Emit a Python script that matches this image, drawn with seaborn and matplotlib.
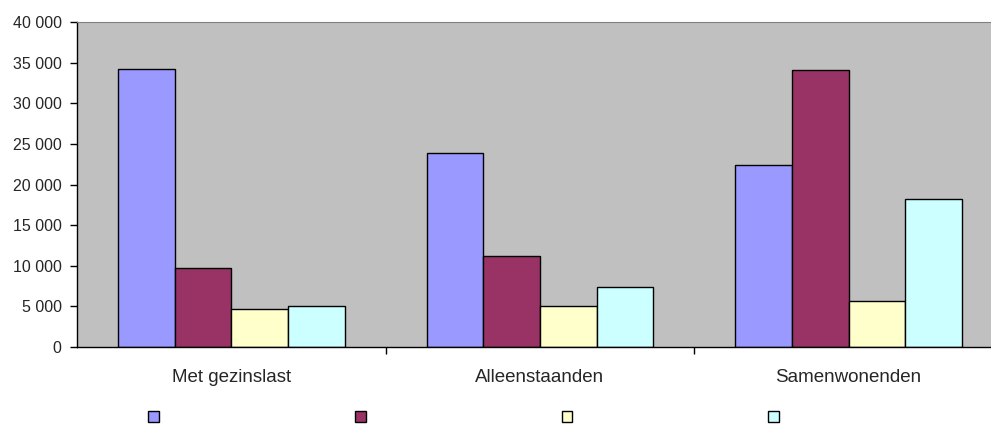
"""Grouped bar chart, Excel-style"""
import matplotlib
matplotlib.use("Agg")
import matplotlib.pyplot as plt
import matplotlib.patches as mpatches
from matplotlib.ticker import FuncFormatter, FixedLocator
import pandas as pd
import seaborn as sns

# data
categories = ["Met gezinslast", "Alleenstaanden", "Samenwonenden"]
series = ["reeks1", "reeks2", "reeks3", "reeks4"]
reeks1 = [34200, 23900, 22400]
reeks2 = [9750, 11200, 34100]
reeks3 = [4700, 5050, 5700]
reeks4 = [5050, 7400, 18250]
colors = ["#9999FF", "#993366", "#FFFFCC", "#CCFFFF"]

rows = []
for name, vals in zip(series, [reeks1, reeks2, reeks3, reeks4]):
    for cat, v in zip(categories, vals):
        rows.append({"cat": cat, "serie": name, "waarde": v})
df = pd.DataFrame(rows)

sns.set_style("white")
plt.rcParams["font.family"] = ["Liberation Sans", "DejaVu Sans"]

fig = plt.figure(figsize=(9.91, 4.25), dpi=100)
# plot area runs a little past the right edge of the picture
ax = fig.add_axes([77 / 991, 1 - 347 / 425, 926 / 991, 325 / 425])
ax.set_facecolor("#C0C0C0")

sns.barplot(data=df, x="cat", y="waarde", hue="serie", order=categories,
            hue_order=series, palette=colors, width=0.735, gap=0,
            edgecolor="black", linewidth=1, saturation=1, legend=False, ax=ax)

ax.set_xlim(-0.5, 2.5)
ax.set_ylim(0, 40000)
ax.set_yticks(range(0, 40001, 5000))
ax.yaxis.set_major_formatter(FuncFormatter(lambda v, p: f"{int(v):,}".replace(",", " ")))
ax.tick_params(axis="y", left=True, length=5, width=1, color="black", labelsize=11.5, pad=6)

ax.set_xticks([0, 1, 2], categories)
ax.tick_params(axis="x", which="major", length=0, labelsize=13.5, pad=16)
ax.xaxis.set_minor_locator(FixedLocator([0.5, 1.5]))
ax.tick_params(axis="x", which="minor", bottom=True, length=5, width=1, color="black")
ax.set_xlabel("")
ax.set_ylabel("")

for s in ["left", "bottom"]:
    ax.spines[s].set_color("black")
    ax.spines[s].set_linewidth(1)
ax.spines["top"].set_color("#808080")
ax.spines["right"].set_visible(False)

handles = [mpatches.Patch(facecolor=c, edgecolor="black", linewidth=1) for c in colors]
fig.legend(handles, ["", "", "", ""], loc="center", ncol=4, frameon=False,
           bbox_to_anchor=(0.474, 1 - 418 / 425), fontsize=11,
           handlelength=0.7, handleheight=0.7, handletextpad=0.8, columnspacing=12.03)

fig.savefig("out.png", dpi=100)
